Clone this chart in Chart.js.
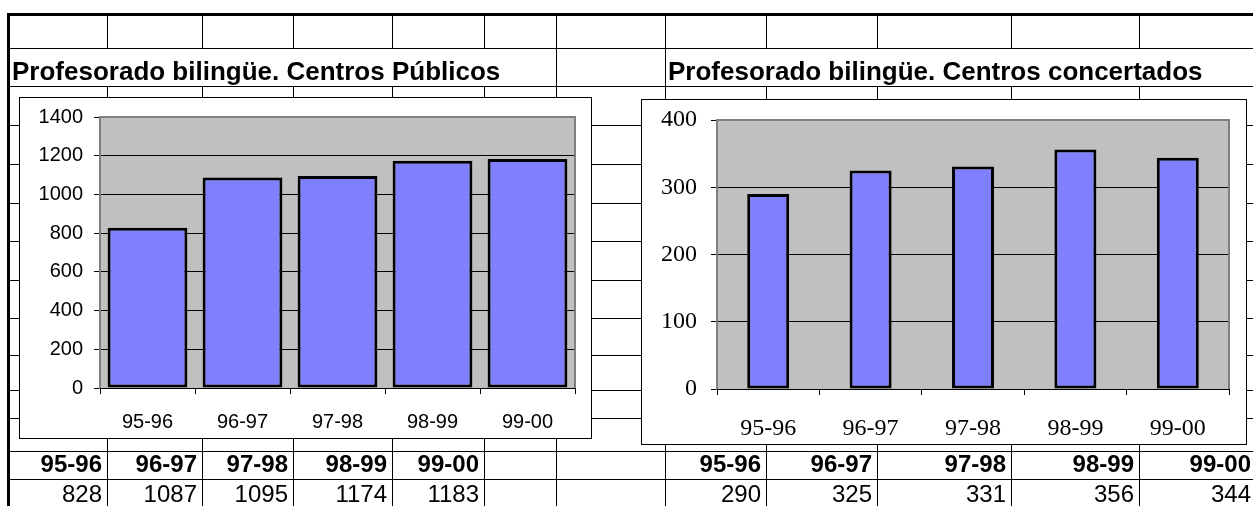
<!DOCTYPE html>
<html>
<head>
<meta charset="utf-8">
<script src="https://cdn.jsdelivr.net/npm/chart.js@4"></script>
<style>
  html, body { margin: 0; padding: 0; background: #fff; overflow: hidden; }
  body { width: 1253px; height: 506px; position: relative; }
  #grid { position: absolute; left: 0; top: 0; }
  .txt { position: absolute; white-space: nowrap; line-height: 1; color: #000;
         font-family: "Liberation Sans", Arial, sans-serif; }
  .title { font-weight: bold; font-size: 26px; }
  .cell { text-align: right; font-size: 24px; }
  .frame { position: absolute; background: #fff; border: 1px solid #000; box-sizing: border-box; }
  .frame canvas { position: absolute; left: 0; top: 0; }
</style>
</head>
<body>
<canvas id="grid" width="1253" height="506"></canvas>

<div class="txt title" style="left:12px;top:58px">Profesorado bilingüe. Centros Públicos</div>
<div class="txt title" style="left:668px;top:58px">Profesorado bilingüe. Centros concertados</div>

<div class="frame" style="left:19px;top:97px;width:573px;height:342px">
  <canvas id="chartPublicos" width="571" height="340"></canvas>
</div>
<div class="frame" style="left:641px;top:99px;width:606px;height:346px">
  <canvas id="chartConcertados" width="604" height="344"></canvas>
</div>

<div id="tables"></div>

<script>
// data
const cursos = ['95-96', '96-97', '97-98', '98-99', '99-00'];
const publicos = [828, 1087, 1095, 1174, 1183];
const concertados = [290, 325, 331, 356, 344];

// spreadsheet grid
const rowLines = [48, 86, 125, 164, 203, 241, 280, 318, 355, 390, 418, 451, 479];
const colLines = [107, 202, 293, 392, 484, 556, 665, 766, 877, 1011, 1139];

const g = document.getElementById('grid').getContext('2d');
g.fillStyle = '#000';
rowLines.forEach(y => g.fillRect(10, y, 1243, 1));
colLines.forEach(x => {
    // the title row only keeps the lines at 556 and 665
    g.fillRect(x, 16, 1, 32);
    if (x === 556 || x === 665) g.fillRect(x, 48, 1, 38);
    g.fillRect(x, 86, 1, 420);
});
g.fillRect(7, 13, 1246, 3);
g.fillRect(7, 13, 3, 493);

// table cells under each chart
const leftCells = [10, 107, 202, 293, 392, 484];
const rightCells = [665, 766, 877, 1011, 1139, 1256];
const tables = document.getElementById('tables');
function addCells(edges, values) {
    for (let i = 0; i < cursos.length; i++) {
        const right = edges[i + 1] - 5;
        const h = document.createElement('div');
        h.className = 'txt cell';
        h.style.cssText = `right:${1253 - right}px;top:452px;font-weight:bold;`;
        h.textContent = cursos[i];
        tables.appendChild(h);
        const v = document.createElement('div');
        v.className = 'txt cell';
        v.style.cssText = `right:${1253 - right}px;top:482px;`;
        v.textContent = values[i];
        tables.appendChild(v);
    }
}
addCells(leftCells, publicos);
addCells(rightCells, concertados);

// grey plot area with its border
const plotArea = {
    id: 'plotArea',
    beforeDraw(chart) {
        const a = chart.chartArea, c = chart.ctx;
        c.save();
        c.fillStyle = '#C0C0C0';
        c.fillRect(a.left, a.top, a.right - a.left, a.bottom - a.top);
        c.restore();
    },
    beforeDatasetsDraw(chart) {
        const a = chart.chartArea, c = chart.ctx;
        c.save();
        c.strokeStyle = '#808080';
        c.lineWidth = 2;
        c.beginPath();
        c.moveTo(a.left, a.top);
        c.lineTo(a.right, a.top);
        c.lineTo(a.right, a.bottom);
        c.stroke();
        c.restore();
    }
};

function makeChart(id, values, opt) {
    const font = { family: opt.family, size: opt.size };
    return new Chart(document.getElementById(id), {
        type: 'bar',
        data: {
            labels: cursos,
            datasets: [{
                data: values,
                backgroundColor: '#8080FF',
                borderColor: '#000',
                borderWidth: 3,
                borderSkipped: false,
                barPercentage: opt.barPct,
                categoryPercentage: 1
            }]
        },
        options: {
            responsive: false,
            animation: false,
            layout: { padding: { top: opt.top, right: opt.right, left: 0, bottom: 0 } },
            plugins: { legend: { display: false }, tooltip: { enabled: false } },
            scales: {
                y: {
                    min: 0, max: opt.max,
                    ticks: { stepSize: opt.step, color: '#000', font: font, padding: opt.yPad,
                             callback: v => String(v) },
                    grid: { color: '#000', lineWidth: 1, tickLength: 6 },
                    border: { color: '#808080', width: 2 },
                    afterFit: s => { s.width = opt.yWidth; s.paddingTop = 0; s.paddingBottom = 0; }
                },
                x: {
                    ticks: { color: '#000', font: font, padding: opt.xPad, maxRotation: 0 },
                    grid: { offset: true, drawOnChartArea: false, color: '#000', tickLength: 6 },
                    border: { color: '#000', width: 1 },
                    afterFit: s => { s.height = opt.xHeight; s.paddingLeft = 0; s.paddingRight = 0; }
                }
            }
        },
        plugins: [plotArea]
    });
}

makeChart('chartPublicos', publicos, {
    family: '"Liberation Sans", Arial, sans-serif', size: 20,
    max: 1400, step: 200, barPct: 0.84,
    top: 19, right: 16, yWidth: 80, xHeight: 50, yPad: 11, xPad: 16
});
makeChart('chartConcertados', concertados, {
    family: '"Liberation Serif", "Times New Roman", serif', size: 24,
    max: 400, step: 100, barPct: 0.41,
    top: 20, right: 17, yWidth: 75, xHeight: 55, yPad: 14, xPad: 19
});
</script>
</body>
</html>
